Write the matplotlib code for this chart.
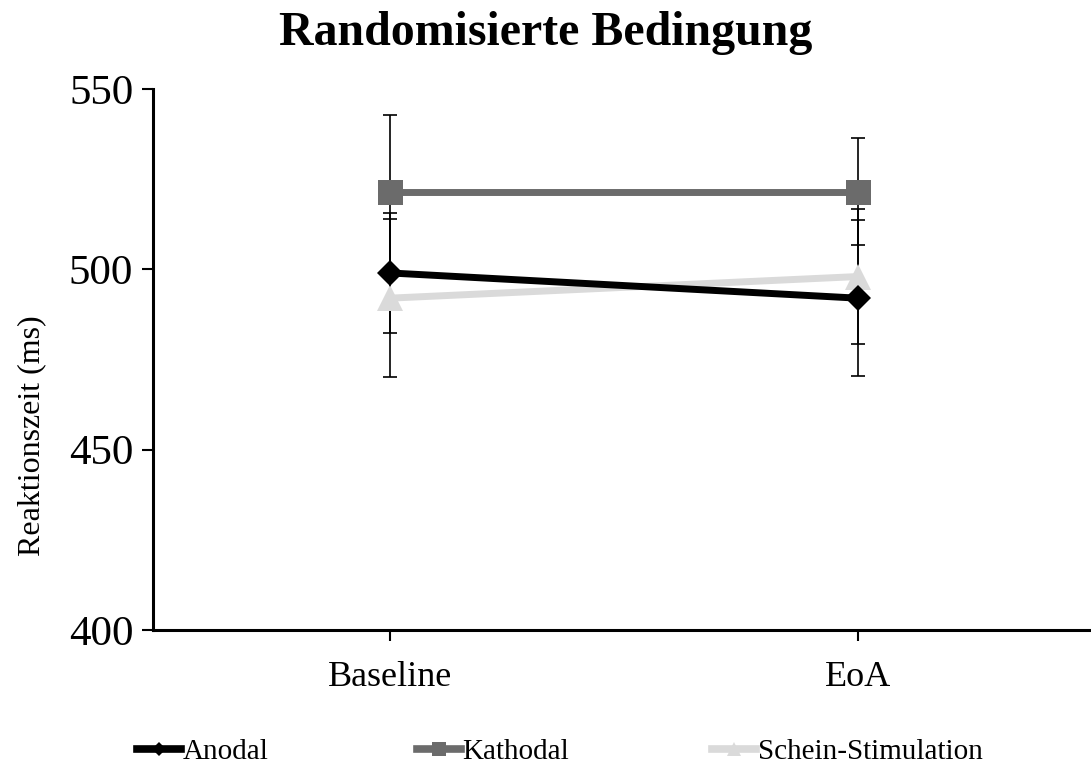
import matplotlib.pyplot as plt
from matplotlib.lines import Line2D

plt.rcParams["font.family"] = ["Liberation Serif", "DejaVu Serif"]

conditions = ["Baseline", "EoA"]
anodal = [499.0, 492.0]
anodal_err = [16.6, 21.6]
kathodal = [521.5, 521.5]
kathodal_err = [21.3, 14.8]
schein = [492.0, 498.0]
schein_err = [21.9, 18.6]

series = [
    ("Anodal", anodal, anodal_err, "black", "D", 13),
    ("Kathodal", kathodal, kathodal_err, "#6b6b6b", "s", 18),
    ("Schein-Stimulation", schein, schein_err, "#dadada", "^", 19),
]
legend_x = [0.126, 0.382, 0.653]  # left edge of each legend entry, figure coords

fig = plt.figure(figsize=(10.91, 7.67), dpi=100)
ax = fig.add_axes([0.140, 0.1786, 0.860, 0.7054])

x = list(range(len(conditions)))
for name, vals, err, color, marker, ms in series:
    ax.errorbar(x, vals, yerr=err, fmt="none", ecolor="black", elinewidth=1.2,
                capsize=5, capthick=1.2, zorder=2)
for name, vals, err, color, marker, ms in series[::-1]:
    ax.plot(x, vals, color=color, lw=5, marker=marker, markersize=ms,
            markeredgewidth=0, zorder=3)

ax.set_xlim(-0.506, 1.498)
ax.set_ylim(400, 550)
ax.set_xticks(x)
ax.set_xticklabels(conditions)
ax.set_yticks([400, 450, 500, 550])
ax.tick_params(axis="both", width=1.5, length=8, direction="out")
ax.tick_params(axis="x", labelsize=26, pad=14)
ax.tick_params(axis="y", labelsize=31, pad=6)
for s in ["top", "right"]:
    ax.spines[s].set_visible(False)
for s in ["left", "bottom"]:
    ax.spines[s].set_linewidth(2.2)
ax.set_ylabel("Reaktionszeit (ms)", fontsize=23)
ax.yaxis.set_label_coords(-0.114, 0.36)

fig.text(0.5, 0.941, "Randomisierte Bedingung", fontsize=34.5, fontweight="bold",
         ha="center", va="baseline")

for (name, vals, err, color, marker, ms), lx in zip(series, legend_x):
    h = Line2D([], [], color=color, lw=5.5, marker=marker, markersize=ms * 0.55,
               markeredgewidth=0, label=name)
    leg = fig.legend(handles=[h], loc="center left", bbox_to_anchor=(lx, 0.02),
                     frameon=False, fontsize=21, handlelength=1.5,
                     handletextpad=0.05, borderpad=0, borderaxespad=0)

fig.savefig("out.png", dpi=100)
